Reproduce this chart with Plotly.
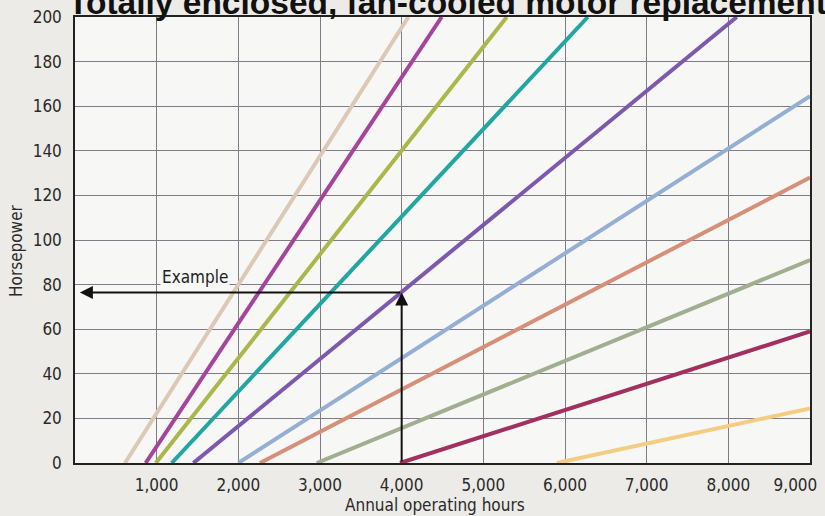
import plotly.graph_objects as go

# ---- data ----
hour_ticks = [1000, 2000, 3000, 4000, 5000, 6000, 7000, 8000, 9000]
hour_tick_text = ["1,000", "2,000", "3,000", "4,000", "5,000", "6,000", "7,000", "8,000", "9,000"]
hp_ticks = [0, 20, 40, 60, 80, 100, 120, 140, 160, 180, 200]

series_names = ["Curve 1", "Curve 2", "Curve 3", "Curve 4", "Curve 5",
                "Curve 6", "Curve 7", "Curve 8", "Curve 9", "Curve 10"]
zero_hours = [612, 865, 990, 1184, 1449, 2000, 2265, 2960, 3980, 5900]
zero_hp = [0, 0, 0, 0, 0, 0, 0, 0, 0, 0]
end_hours = [4082, 4490, 5287, 6280, 8103, 9000, 9000, 9000, 9000, 9000]
end_hp = [200, 200, 200, 200, 200, 164.5, 128, 91, 59, 24.5]

example_hours = 4000
example_hp = 76.5
example_arrow_tip_hours = 60
example_label_hours = 1470
example_label_hp = 83.4

# ---- styles ----
line_colors = ["#dcc8b4", "#a4449c", "#abb74a", "#22a6a1", "#7c59ad",
               "#95aed3", "#d68f78", "#a1ae8f", "#a2305f", "#f2cd83"]
TXT_FONT = "Liberation Sans Narrow, DejaVu Sans Condensed, Arial Narrow, sans-serif"
PAPER = "#ecebe7"
PLOT = "#f7f7f5"
GRID = "#807b86"

# last tick label sits a little left of its gridline in the reference (padding only)
tick_text_display = hour_tick_text[:-1] + [hour_tick_text[-1] + "&#160;" * 6]

fig = go.Figure()
for name, x0, y0, x1, y1, c in zip(series_names, zero_hours, zero_hp, end_hours, end_hp, line_colors):
    fig.add_trace(go.Scatter(x=[x0, x1], y=[y0, y1], mode="lines", name=name,
                             line=dict(color=c, width=4), hoverinfo="skip"))

annotations = [
    # title (cut off at the top like the reference)
    dict(text="<b>Totally enclosed, fan-cooled motor replacement</b>", xref="paper", yref="paper",
         x=-0.012, y=1, xanchor="left", yanchor="bottom", yshift=-6, showarrow=False,
         font=dict(family="Liberation Sans, Arial, sans-serif", size=33.5, color="#111111"),
         ),
    # axis titles
    dict(text="Annual operating hours", xref="paper", yref="paper", x=0.49, y=0,
         xanchor="center", yanchor="middle", yshift=-42, showarrow=False,
         font=dict(family=TXT_FONT, size=17, color="#2a2a2a")),
    dict(text="Horsepower", xref="paper", yref="paper", x=-0.0803, y=0.4776,
         xanchor="center", yanchor="middle", textangle=-90, showarrow=False,
         font=dict(family=TXT_FONT, size=17, color="#2a2a2a")),
    # example
    dict(text="Example", x=example_label_hours, y=example_label_hp, xref="x", yref="y",
         showarrow=False, bgcolor=PLOT, borderpad=1,
         font=dict(family=TXT_FONT, size=17, color="#222222")),
    dict(text="", x=example_arrow_tip_hours, y=example_hp, ax=example_hours, ay=example_hp,
         xref="x", yref="y", axref="x", ayref="y", showarrow=True, arrowhead=2,
         arrowsize=1.3, arrowwidth=2, arrowcolor="#111111", standoff=0),
    dict(text="", x=example_hours, y=example_hp, ax=example_hours, ay=0,
         xref="x", yref="y", axref="x", ayref="y", showarrow=True, arrowhead=2,
         arrowsize=1.3, arrowwidth=2, arrowcolor="#111111", standoff=0),
]

fig.update_layout(
    width=825, height=516,
    margin=dict(l=75, r=15, t=17, b=53, autoexpand=False),
    paper_bgcolor=PAPER, plot_bgcolor=PLOT,
    showlegend=False,
    annotations=annotations,
    xaxis=dict(range=[0, 9000], tickvals=hour_ticks, ticktext=tick_text_display,
               showgrid=True, gridcolor=GRID, gridwidth=1, zeroline=False,
               showline=True, linecolor="#222222", linewidth=1.5, mirror=True,
               ticks="", ticklabelstandoff=6, ticklabeloverflow="allow",
               tickfont=dict(family=TXT_FONT, size=17, color="#2a2a2a")),
    yaxis=dict(range=[0, 200], tickvals=hp_ticks,
               showgrid=True, gridcolor=GRID, gridwidth=1, zeroline=False,
               showline=True, linecolor="#222222", linewidth=1.5, mirror=True,
               ticks="", ticklabelstandoff=8, ticklabeloverflow="allow",
               tickfont=dict(family=TXT_FONT, size=17, color="#2a2a2a")),
)

fig.write_html("out.html", config={"displayModeBar": False},
               post_script="document.body.style.margin='0px';"
                           "document.body.style.background='" + PAPER + "';")
